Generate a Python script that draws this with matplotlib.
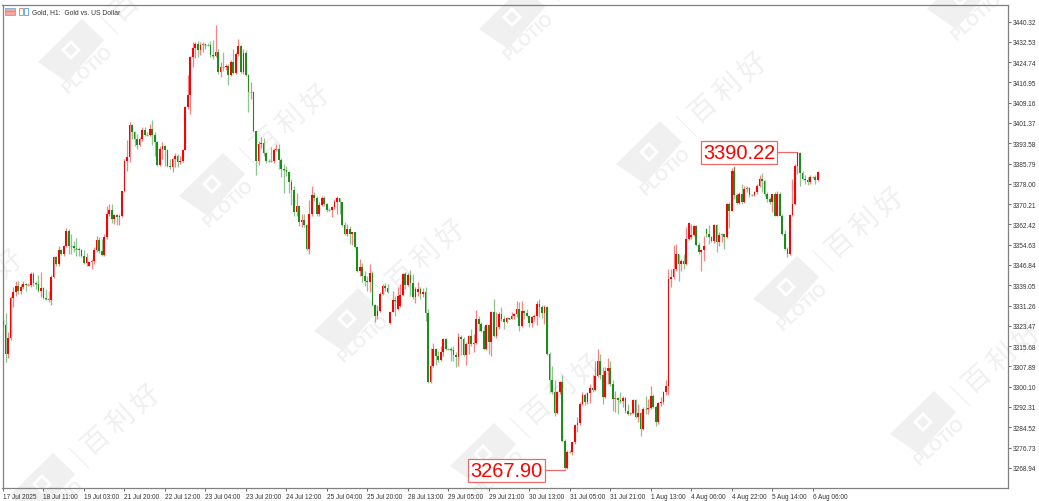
import matplotlib
matplotlib.use('Agg')
import matplotlib.pyplot as plt
import numpy as np
from matplotlib.patches import Polygon
from matplotlib.transforms import IdentityTransform

# hourly closes, highs and lows, 17 Jul to 6 Aug 2025
closes = [
    3323.8, 3312.7, 3318.7, 3334.2, 3336.4, 3338.7, 3337.0, 3338.5, 3339.6, 3339.2,
    3339.3, 3343.4, 3339.9, 3339.6, 3337.0, 3337.9, 3334.2, 3333.8, 3333.2, 3342.1,
    3349.8, 3347.2, 3352.4, 3351.1, 3354.0, 3360.0, 3354.3, 3354.2, 3353.3, 3353.0,
    3352.4, 3350.4, 3347.6, 3349.8, 3347.9, 3348.5, 3352.4, 3356.6, 3352.1, 3350.7,
    3357.5, 3366.4, 3368.1, 3364.5, 3366.1, 3365.2, 3365.8, 3375.1, 3386.9, 3388.2,
    3400.4, 3397.8, 3395.2, 3392.9, 3395.2, 3398.8, 3396.8, 3396.8, 3399.1, 3396.8,
    3394.0, 3385.3, 3391.4, 3392.7, 3390.8, 3385.0, 3384.4, 3387.6, 3388.8, 3386.3,
    3386.9, 3391.1, 3407.4, 3412.1, 3426.6, 3430.1, 3431.7, 3429.2, 3431.3, 3431.6,
    3431.3, 3431.3, 3427.5, 3427.2, 3428.8, 3420.8, 3423.0, 3422.8, 3423.4, 3419.8,
    3424.9, 3420.6, 3427.9, 3431.1, 3421.1, 3428.3, 3419.8, 3413.2, 3413.4, 3398.1,
    3386.9, 3393.1, 3393.7, 3389.8, 3386.9, 3386.9, 3386.6, 3391.1, 3391.4, 3387.3,
    3383.7, 3383.4, 3382.7, 3378.8, 3375.8, 3367.3, 3369.4, 3363.5, 3364.1, 3362.2,
    3353.0, 3366.4, 3373.7, 3372.4, 3366.4, 3369.9, 3372.4, 3370.3, 3368.1, 3368.0,
    3369.0, 3370.9, 3372.4, 3370.9, 3362.2, 3358.7, 3360.7, 3358.7, 3359.4, 3353.6,
    3344.7, 3345.9, 3342.5, 3340.8, 3340.2, 3343.8, 3331.5, 3327.4, 3329.3, 3335.7,
    3338.9, 3337.9, 3336.3, 3328.9, 3333.4, 3333.1, 3335.1, 3335.3, 3343.4, 3339.3,
    3343.1, 3339.9, 3334.4, 3337.6, 3337.6, 3335.7, 3336.3, 3328.3, 3301.8, 3307.9,
    3314.6, 3312.0, 3310.4, 3313.6, 3318.4, 3314.6, 3314.4, 3314.3, 3312.3, 3311.4,
    3319.1, 3318.4, 3312.3, 3316.5, 3319.7, 3316.5, 3316.9, 3326.1, 3324.2, 3321.6,
    3314.6, 3323.8, 3317.4, 3328.9, 3319.7, 3322.9, 3328.0, 3326.1, 3324.8, 3326.4,
    3326.2, 3327.4, 3328.0, 3329.9, 3323.3, 3329.3, 3328.4, 3327.1, 3324.6, 3326.7,
    3327.4, 3331.9, 3330.6, 3328.3, 3330.6, 3312.7, 3302.8, 3298.2, 3289.9, 3298.0,
    3301.8, 3279.4, 3268.8, 3274.9, 3275.2, 3278.8, 3285.4, 3286.2, 3293.5, 3297.1,
    3294.4, 3297.7, 3299.5, 3298.9, 3304.1, 3309.8, 3304.6, 3296.1, 3306.3, 3307.2,
    3301.2, 3295.4, 3295.7, 3294.8, 3294.6, 3295.8, 3290.6, 3289.7, 3289.9, 3294.8,
    3288.4, 3290.0, 3283.9, 3291.6, 3291.4, 3291.8, 3296.7, 3292.2, 3286.5, 3293.9,
    3294.4, 3298.2, 3300.3, 3341.5, 3342.1, 3345.1, 3351.1, 3347.3, 3348.5, 3347.3,
    3356.9, 3362.9, 3358.4, 3361.7, 3354.6, 3352.0, 3352.5, 3354.3, 3358.8, 3357.5,
    3356.2, 3362.2, 3355.6, 3358.4, 3358.7, 3357.5, 3370.3, 3367.7, 3383.1, 3373.8,
    3370.7, 3374.1, 3370.9, 3376.0, 3376.3, 3373.8, 3373.6, 3374.8, 3377.3, 3379.9,
    3378.9, 3374.1, 3372.0, 3371.2, 3373.9, 3365.8, 3373.9, 3365.8, 3358.8, 3352.8,
    3351.1, 3366.1, 3370.3, 3385.0, 3389.9, 3382.2, 3379.9, 3379.3, 3378.6, 3380.8,
    3380.7, 3379.6, 3382.5,
]
highs = [
    3326.1, 3328.4, 3321.0, 3335.1, 3338.3, 3340.8, 3340.8, 3339.6, 3340.5, 3339.9,
    3339.8, 3344.0, 3344.0, 3340.8, 3342.8, 3344.0, 3338.3, 3337.6, 3337.0, 3342.8,
    3350.4, 3350.4, 3354.3, 3353.0, 3354.5, 3360.9, 3360.7, 3358.8, 3356.2, 3357.1,
    3353.6, 3353.0, 3352.4, 3351.5, 3348.1, 3349.2, 3353.6, 3358.1, 3357.5, 3356.8,
    3358.8, 3369.6, 3370.3, 3370.3, 3366.4, 3366.4, 3366.4, 3375.4, 3387.6, 3395.0,
    3401.6, 3401.0, 3398.4, 3397.2, 3395.9, 3399.7, 3399.7, 3397.8, 3401.0, 3402.5,
    3397.8, 3394.6, 3392.7, 3394.0, 3392.9, 3391.4, 3387.6, 3387.8, 3389.9, 3389.5,
    3388.8, 3391.4, 3407.8, 3419.8, 3427.2, 3432.6, 3432.6, 3433.0, 3432.4, 3432.4,
    3432.1, 3432.1, 3433.0, 3433.4, 3439.0, 3429.8, 3424.7, 3428.5, 3424.0, 3424.0,
    3425.6, 3429.8, 3428.5, 3433.6, 3431.3, 3429.8, 3429.5, 3420.2, 3417.0, 3413.8,
    3398.4, 3394.6, 3395.9, 3395.5, 3390.4, 3387.5, 3392.3, 3391.6, 3393.3, 3393.3,
    3387.8, 3385.6, 3385.0, 3383.1, 3379.9, 3377.3, 3374.5, 3369.9, 3366.4, 3366.4,
    3362.6, 3371.9, 3377.3, 3375.0, 3373.5, 3370.9, 3373.2, 3373.2, 3370.6, 3368.6,
    3369.6, 3372.2, 3373.5, 3372.4, 3371.2, 3363.2, 3362.6, 3361.9, 3359.6, 3359.6,
    3354.0, 3349.1, 3347.6, 3344.7, 3342.7, 3347.2, 3344.7, 3331.9, 3331.5, 3336.3,
    3339.5, 3339.9, 3339.5, 3329.3, 3337.0, 3335.1, 3338.3, 3339.5, 3343.8, 3344.0,
    3343.8, 3345.0, 3343.4, 3338.3, 3340.4, 3338.3, 3337.9, 3338.3, 3329.9, 3314.8,
    3316.9, 3314.8, 3313.9, 3315.9, 3318.7, 3318.7, 3314.8, 3315.2, 3315.6, 3313.3,
    3320.7, 3320.0, 3319.1, 3317.1, 3320.0, 3322.3, 3320.3, 3329.7, 3327.4, 3324.8,
    3323.5, 3324.2, 3324.2, 3329.3, 3333.8, 3328.9, 3328.7, 3330.6, 3327.4, 3326.7,
    3326.6, 3328.9, 3328.4, 3333.1, 3332.8, 3333.1, 3329.7, 3329.9, 3327.4, 3327.4,
    3328.0, 3333.1, 3333.8, 3331.5, 3331.5, 3331.2, 3313.3, 3308.2, 3302.5, 3298.6,
    3302.1, 3304.6, 3280.1, 3275.6, 3275.6, 3279.4, 3285.8, 3288.4, 3294.1, 3298.0,
    3297.7, 3298.2, 3301.2, 3304.4, 3309.8, 3314.6, 3312.7, 3307.6, 3307.6, 3311.0,
    3309.8, 3302.5, 3298.6, 3296.1, 3298.0, 3296.7, 3296.1, 3293.5, 3290.3, 3295.2,
    3295.2, 3293.5, 3290.3, 3292.2, 3296.7, 3295.4, 3300.3, 3297.3, 3292.9, 3294.4,
    3296.1, 3298.6, 3302.5, 3345.3, 3345.3, 3354.6, 3354.9, 3351.1, 3349.2, 3351.1,
    3361.3, 3363.3, 3362.6, 3362.2, 3362.2, 3355.6, 3353.0, 3358.1, 3361.0, 3362.0,
    3358.1, 3362.6, 3362.6, 3359.4, 3359.2, 3358.8, 3370.7, 3371.2, 3384.0, 3384.6,
    3374.5, 3374.8, 3378.0, 3377.1, 3377.1, 3376.7, 3374.1, 3375.4, 3378.0, 3381.2,
    3382.2, 3379.3, 3374.8, 3372.9, 3374.1, 3374.8, 3375.4, 3374.8, 3366.5, 3360.1,
    3353.7, 3366.5, 3379.9, 3385.7, 3390.2, 3390.1, 3383.1, 3381.2, 3380.5, 3381.2,
    3380.9, 3381.2, 3383.1,
]
lows = [
    3322.9, 3309.5, 3311.0, 3318.2, 3330.6, 3335.1, 3335.7, 3335.7, 3337.6, 3337.0,
    3338.7, 3338.3, 3338.9, 3337.6, 3336.4, 3334.4, 3333.8, 3333.2, 3332.8, 3331.6,
    3341.7, 3346.6, 3346.6, 3350.7, 3350.4, 3353.6, 3351.1, 3351.1, 3351.7, 3350.4,
    3350.2, 3349.8, 3347.2, 3346.6, 3346.6, 3345.3, 3347.2, 3351.7, 3351.5, 3350.2,
    3350.2, 3356.8, 3365.8, 3363.0, 3362.6, 3362.2, 3362.2, 3365.2, 3374.8, 3383.1,
    3386.3, 3395.2, 3392.7, 3391.4, 3392.7, 3394.6, 3396.5, 3396.3, 3396.3, 3392.9,
    3388.8, 3384.7, 3384.7, 3387.6, 3385.0, 3384.4, 3383.7, 3382.7, 3384.4, 3384.4,
    3385.6, 3386.3, 3390.8, 3406.8, 3404.8, 3422.8, 3426.2, 3426.6, 3427.5, 3428.8,
    3429.8, 3430.8, 3426.6, 3426.0, 3426.6, 3420.2, 3418.9, 3421.5, 3421.7, 3416.0,
    3419.3, 3420.2, 3420.2, 3427.2, 3420.6, 3420.2, 3419.3, 3405.5, 3410.6, 3397.8,
    3381.4, 3385.3, 3391.6, 3388.6, 3386.0, 3386.3, 3386.3, 3386.0, 3390.7, 3383.7,
    3380.5, 3374.5, 3381.1, 3374.5, 3369.9, 3365.5, 3365.5, 3361.7, 3361.3, 3361.3,
    3352.7, 3351.1, 3365.8, 3371.5, 3365.8, 3365.8, 3369.6, 3369.6, 3367.3, 3367.6,
    3365.1, 3368.4, 3366.4, 3366.4, 3361.7, 3358.4, 3358.1, 3354.9, 3354.5, 3353.2,
    3344.3, 3342.7, 3340.4, 3338.6, 3337.0, 3336.6, 3331.2, 3324.8, 3326.1, 3328.9,
    3335.3, 3337.0, 3336.1, 3324.2, 3328.9, 3327.4, 3329.7, 3330.6, 3334.8, 3337.6,
    3338.9, 3335.1, 3333.8, 3332.2, 3335.1, 3333.8, 3334.4, 3325.5, 3301.5, 3301.5,
    3307.5, 3308.4, 3309.5, 3310.1, 3312.0, 3314.3, 3314.2, 3310.1, 3310.1, 3307.5,
    3307.9, 3312.3, 3311.8, 3308.4, 3312.7, 3315.9, 3313.3, 3316.5, 3321.6, 3321.0,
    3314.3, 3314.3, 3312.7, 3311.8, 3319.1, 3318.7, 3322.3, 3325.5, 3322.3, 3324.6,
    3326.0, 3326.1, 3326.1, 3326.7, 3321.6, 3322.9, 3326.1, 3326.7, 3322.9, 3322.9,
    3325.5, 3323.8, 3326.7, 3326.4, 3324.2, 3312.3, 3298.0, 3297.3, 3289.0, 3289.7,
    3297.3, 3279.0, 3268.5, 3268.5, 3274.7, 3273.7, 3278.1, 3282.6, 3285.2, 3292.9,
    3293.1, 3293.5, 3293.9, 3298.0, 3298.6, 3303.7, 3303.1, 3293.5, 3295.7, 3301.2,
    3300.5, 3290.9, 3290.3, 3289.7, 3293.9, 3292.2, 3289.9, 3289.3, 3289.3, 3289.7,
    3288.0, 3286.5, 3281.3, 3283.6, 3289.7, 3289.7, 3291.6, 3291.8, 3284.9, 3285.8,
    3292.6, 3293.5, 3297.0, 3297.0, 3338.3, 3341.5, 3344.7, 3340.5, 3344.7, 3345.1,
    3346.9, 3356.6, 3356.9, 3357.9, 3354.0, 3351.1, 3344.7, 3348.5, 3357.5, 3354.9,
    3355.6, 3355.3, 3351.7, 3354.3, 3355.6, 3352.8, 3357.1, 3361.0, 3367.4, 3372.2,
    3370.3, 3370.3, 3370.3, 3370.7, 3374.8, 3372.9, 3373.3, 3373.5, 3374.1, 3376.7,
    3374.8, 3373.5, 3371.2, 3370.3, 3367.1, 3365.6, 3365.6, 3365.6, 3358.4, 3352.4,
    3349.8, 3350.5, 3365.8, 3369.9, 3381.8, 3377.3, 3379.3, 3378.0, 3377.6, 3378.0,
    3380.3, 3378.0, 3378.9,
]
# opens follow the previous close, except where the chart shows a gap
open_first = 3325.5
open_gaps = {34: 3346.6, 153: 3324.6, 156: 3329.9, 157: 3331.2, 164: 3336.3,
             263: 3300.3, 272: 3357.5, 278: 3360.7}

price_ticks = ['3440.32', '3432.53', '3424.74', '3416.95', '3409.16', '3401.37',
               '3393.58', '3385.79', '3378.00', '3370.21', '3362.42', '3354.63',
               '3346.84', '3339.05', '3331.26', '3323.47', '3315.68', '3307.89',
               '3300.10', '3292.31', '3284.52', '3276.73', '3268.94']
date_ticks = ['17 Jul 2025', '18 Jul 11:00', '19 Jul 03:00', '21 Jul 20:00',
              '22 Jul 12:00', '23 Jul 04:00', '23 Jul 20:00', '24 Jul 12:00',
              '25 Jul 04:00', '25 Jul 20:00', '28 Jul 13:00', '29 Jul 05:00',
              '29 Jul 21:00', '30 Jul 13:00', '31 Jul 05:00', '31 Jul 21:00',
              '1 Aug 13:00', '4 Aug 06:00', '4 Aug 22:00', '5 Aug 14:00', '6 Aug 06:00']
date_step = 16

# watermark logo centres, in image pixels
logos = [(71, 51), (212, 185), (347, 320), (483, 455), (512, 18), (649, 153),
         (786, 288), (923, 423), (42, 485), (960, -2), (-95, 350)]

W, H = 1039, 502
RED = '#ff0000'
GREEN = '#1c8c1c'
MARK = '#ee6a6a'
WM = '#f0f0f0'

plt.rcParams['font.family'] = ['Liberation Sans', 'DejaVu Sans']

fig = plt.figure(figsize=(W / 100, H / 100), dpi=100)


def px(x, y):
    return x, H - y


def shape(points, **kw):
    fig.add_artist(Polygon([px(x, y) for x, y in points], transform=IdentityTransform(), **kw))


# watermark goes on the figure, under the axes
for cx, cy in logos:
    shape([(cx + 11, cy - 31), (cx + 33, cy - 10), (cx - 4, cy + 32), (cx - 33, cy + 12)], fc=WM, ec='none', zorder=0)
    shape([(cx, cy - 10), (cx + 10, cy), (cx, cy + 10), (cx - 10, cy)], fc='white', ec='none', zorder=0)
    shape([(cx, cy - 6), (cx + 6, cy), (cx, cy + 6), (cx - 6, cy)], fc=WM, ec='none', zorder=0)
    fig.text((cx + 17) / W, 1 - (cy + 19) / H, 'PLOTIO', rotation=42, fontsize=12, fontweight='bold',
             color=WM, ha='center', va='center', rotation_mode='anchor', zorder=0)
    fig.add_artist(plt.Line2D([cx + 27, cx + 47], [H - cy + 36, H - cy + 16], color=WM, lw=0.8,
                              transform=IdentityTransform(), zorder=0))
    for k, ch in enumerate('百利好'):
        fig.text((cx + 54 + 25 * k) / W, 1 - (cy - 44 - 21 * k) / H, ch, rotation=42, fontsize=20,
                 color=WM, ha='center', va='center', rotation_mode='anchor',
                 family=['Noto Sans CJK SC'], zorder=0)

ax = fig.add_axes([2.5 / W, 1 - 489 / H, (1008 - 2.5) / W, (489 - 5.5) / H])
ax.patch.set_alpha(0)
ax.set_zorder(2)

n = len(closes)
idx = np.arange(n)
c = np.array(closes)
h = np.array(highs)
l = np.array(lows)
o = np.concatenate([[open_first], c[:-1]])
for k, v in open_gaps.items():
    o[k] = v

colors = [RED if b > a else GREEN for a, b in zip(o, c)]
ax.vlines(idx, l, h, colors=colors, lw=0.9, alpha=0.5, zorder=2)
ax.bar(idx, np.abs(c - o), bottom=np.minimum(o, c), width=0.68, color=colors, lw=0, zorder=3)
# dojis would vanish as bars
flat = np.abs(c - o) < 0.4
ax.hlines(c[flat], idx[flat] - 0.4, idx[flat] + 0.4, colors='#6fbf6f', lw=0.7, zorder=3)

ax.set_xlim(-0.2, 397.2)
ax.set_ylim(3261.2, 3446.85)

# high and low markers, the high is the one of the last leg
top = 200 + int(np.argmax(h[200:]))
second = 200 + int(np.argmax(h[200:300]))
bottom = int(np.argmin(l))
ax.plot([291, top], [3390.22, 3390.22], color=MARK, lw=0.9, zorder=1)
ax.plot([second, second], [3380.0, h[second]], color=MARK, lw=0.9, zorder=1)
ax.plot([199, bottom], [3268.1, 3268.1], color=MARK, lw=0.9, zorder=1)
box = dict(boxstyle='square,pad=0.1', fc='white', ec=MARK, lw=0.9)
ax.text(291, 3390.0, '3390.22', color=RED, fontsize=14.4, ha='center', va='center', bbox=box, zorder=4)
ax.text(199, 3268.0, '3267.90', color=RED, fontsize=14.4, ha='center', va='center', bbox=box, zorder=4)

# axes, terminal style: prices right, dates below
ax.yaxis.tick_right()
ax.set_yticks([float(t) for t in price_ticks])
ax.set_yticklabels(price_ticks, fontsize=4.7, color='#333333')
ax.set_xticks(np.arange(len(date_ticks)) * date_step)
ax.set_xticklabels(date_ticks, fontsize=4.7, color='#333333', ha='left')
ax.tick_params(axis='both', length=2.5, width=0.6, color='#555555', pad=1.2)
for s in ax.spines.values():
    s.set_color('#808080')
    s.set_linewidth(0.9)

# header with the two little toolbar icons
shape([(5, 9), (15, 9), (15, 16), (5, 16)], fc='#f4a9a0', ec='#7fa8d8', lw=0.6, zorder=3)
shape([(5, 12), (15, 12), (15, 13), (5, 13)], fc='#7fa8d8', ec='none', zorder=3)
shape([(19, 9), (23, 9), (23, 16), (19, 16)], fc='white', ec='#ee8a70', lw=0.7, zorder=3)
shape([(24, 9), (28, 9), (28, 16), (24, 16)], fc='white', ec='#6fa8e0', lw=0.7, zorder=3)
fig.text(32 / W, 1 - 12.8 / H, 'Gold, H1:  Gold vs. US Dollar', fontsize=4.9, color='#333333', va='center', zorder=3)

fig.savefig('out.png', dpi=100)
